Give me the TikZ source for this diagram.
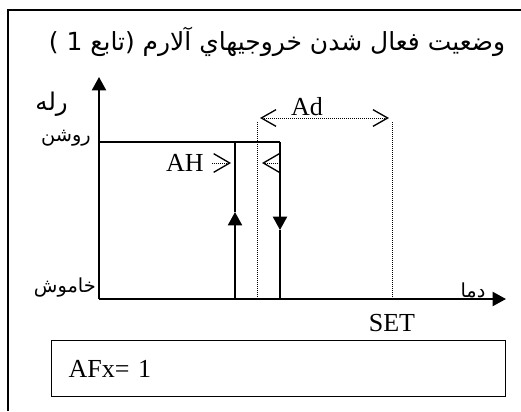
\documentclass[tikz,border=0pt]{standalone}
\usepackage{fontspec}
\setmainfont{Liberation Serif}
\newfontfamily\arabicfont[Script=Arabic]{DejaVu Sans}
\TeXXeTstate=1
\usetikzlibrary{arrows.meta}

\begin{document}
\begin{tikzpicture}[x=0.75pt, y=-0.75pt,
        thickline/.style={line width=1.5pt},
        dotline/.style={line width=0.75pt, dash pattern=on 0.75pt off 0.75pt},
        bigtip/.tip={Triangle[length=10pt, width=10.5pt]},
        barb/.tip={Straight Barb[length=12pt, width=14pt, line width=1pt]},
        smallbarb/.tip={Straight Barb[length=11pt, width=12.5pt, line width=1pt]},
        latin/.style={font=\fontsize{19.5}{22}\selectfont, inner sep=0pt},
        farsi/.style={font=\arabicfont\fontsize{14.5}{17}\selectfont, inner sep=0pt}]
            \useasboundingbox (0,0) rectangle (521,411);

            % frame
            \coordinate (f1) at (8,411);
            \coordinate (f2) at (8,10);
            \coordinate (f3) at (521,10);
            \draw[thickline] (f1) -- (f2) -- (f3);

            \node (title) at (277,42) [inner sep=0pt, font=\arabicfont\fontsize{18.7}{22}\selectfont] {\beginR وضعيت فعال شدن خروجيهاي آلارم (تابع  1 )\endR};

            % axes
            \coordinate (o) at (99,299);
            \coordinate (ytop) at (99,77);
            \coordinate (xend) at (506,299);
            \draw[thickline, -bigtip] (o) -- (ytop);
            \draw[thickline, -bigtip] (o) -- (xend);

            % relay curve
            \coordinate (on) at (99,142);
            \coordinate (upb) at (235,299);
            \coordinate (upm) at (235,212);
            \coordinate (upt) at (235,142);
            \coordinate (dnt) at (280,142);
            \coordinate (dnm) at (280,230);
            \coordinate (dnb) at (280,299);
            \draw[thickline] (on) -- (dnt);
            \draw[thickline, -bigtip] (upb) -- (upm);
            \draw[thickline] (upm) -- (upt);
            \draw[thickline, -bigtip] (dnt) -- (dnm);
            \draw[thickline] (dnm) -- (dnb);

            % dotted limits
            \coordinate (d1t) at (257,122);
            \coordinate (d1b) at (257,299);
            \coordinate (d2t) at (392,122);
            \coordinate (d2b) at (392,299);
            \draw[dotline] (d1t) -- (d1b);
            \draw[dotline] (d2t) -- (d2b);

            % Ad
            \coordinate (adl) at (260,118);
            \coordinate (adr) at (389,118);
            \draw[dotline, smallbarb-smallbarb] (adl) -- (adr);
            \node (ad) at (307,107) [latin] {Ad};

            % AH
            \coordinate (ah1) at (212,163);
            \coordinate (ah2) at (231,163);
            \coordinate (ah3) at (280,163);
            \coordinate (ah4) at (262,163);
            \draw[dotline, -barb] (ah1) -- (ah2);
            \draw[dotline, -barb] (ah3) -- (ah4);
            \node (ah) at (185,163) [latin] {AH};

            \node (set) at (392,323) [latin] {SET};

            % labels
            \node (rele) at (68,104) [anchor=east, inner sep=0pt, font=\arabicfont\fontsize{18.3}{22}\selectfont] {\beginR رله\endR};
            \node (roshan) at (91,138) [farsi, anchor=east] {\beginR روشن\endR};
            \node (khamush) at (96,288) [farsi, anchor=east] {\beginR خاموش\endR};
            \node (dama) at (473,290) [farsi] {\beginR دما\endR};

            \node (afx) at (51,340) [draw, line width=0.8pt, anchor=north west, minimum width=340.5pt,
                minimum height=42pt, inner xsep=12.75pt, text width=315pt, align=left,
                font=\fontsize{19.5}{22}\selectfont] {AFx= 1};

        \end{tikzpicture}
\end{document}
